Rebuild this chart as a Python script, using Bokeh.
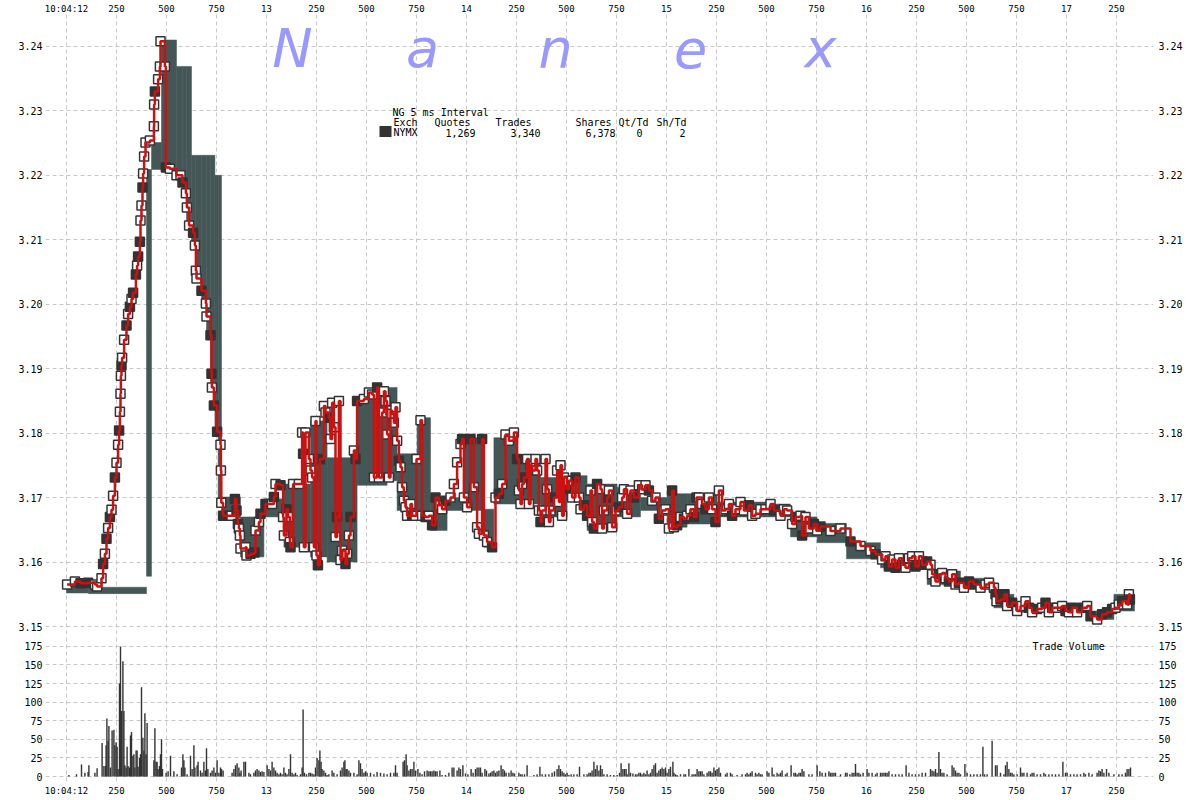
from bokeh.plotting import figure
from bokeh.models import Range1d, LinearAxis, FixedTicker, PrintfTickFormatter, Label, ColumnDataSource
from bokeh.layouts import column
from bokeh.transform import factor_cmap
from bokeh.embed import file_html
from bokeh.resources import INLINE

MONO = "DejaVu Sans Mono"

# ---------------- tick labels ----------------
x_ticks = list(range(0, 5251, 250))          # ms after 10:04:12.000
x_tick_text = ["10:04:12", "250", "500", "750",
               "13", "250", "500", "750",
               "14", "250", "500", "750",
               "15", "250", "500", "750",
               "16", "250", "500", "750",
               "17", "250"]
price_ticks = [3.15, 3.16, 3.17, 3.18, 3.19, 3.20, 3.21, 3.22, 3.23, 3.24]
vol_ticks = [0, 25, 50, 75, 100, 125, 150, 175]

# ---------------- NYMX quotes (bid / ask steps) ----------------
q_ms = [0, 110, 400, 425, 475, 550, 580, 600, 625, 645, 675, 700, 720, 742, 758,
        775, 870, 987, 1087, 1220, 1303, 1453, 1603, 1653, 1753, 1820, 1903, 1987,
        2087, 2137, 2253, 2370, 2503, 2603, 2753, 2870, 3003, 3103, 3253, 3503,
        3620, 3753, 3900, 4070, 4303, 4470, 4637, 4737, 5120, 5237]
q_end = 5340
q_bid = [3.1552, 3.1551, 3.1578, 3.2209, 3.2212, 3.2200, 3.2172, 3.2122, 3.2091, 3.2040,
         3.2001, 3.1952, 3.1871, 3.1802, 3.1692, 3.1668, 3.1608, 3.1670, 3.1623, 3.1608,
         3.1600, 3.1719, 3.1726, 3.1680, 3.1675, 3.1649, 3.1680, 3.1680, 3.1623, 3.1690,
         3.1690, 3.1670, 3.1695, 3.1649, 3.1670, 3.1680, 3.1654, 3.1659, 3.1670, 3.1670,
         3.1639, 3.1630, 3.1605, 3.1591, 3.1565, 3.1560, 3.1529, 3.1522, 3.1511, 3.1524]
q_ask = [3.1568, 3.1561, 3.2209, 3.2251, 3.2410, 3.2369, 3.2369, 3.2369, 3.2231, 3.2231,
         3.2231, 3.2231, 3.2231, 3.2200, 3.2200, 3.1701, 3.1670, 3.1698, 3.1721, 3.1819,
         3.1762, 3.1855, 3.1871, 3.1768, 3.1824, 3.1700, 3.1700, 3.1793, 3.1682, 3.1793,
         3.1762, 3.1731, 3.1734, 3.1721, 3.1716, 3.1700, 3.1706, 3.1706, 3.1693, 3.1690,
         3.1670, 3.1660, 3.1630, 3.1609, 3.1586, 3.1575, 3.1550, 3.1534, 3.1524, 3.1550]

# ---------------- trades ----------------
tr_ms = [3, 42, 70, 108, 142, 153, 175, 183, 192, 200,
         208, 217, 225, 233, 242, 250, 258, 263, 267, 270,
         272, 275, 278, 288, 300, 308, 317, 325, 333, 347,
         353, 358, 367, 370, 375, 380, 383, 388, 395, 417,
         437, 438, 442, 458, 467, 470, 492, 497, 517, 550,
         570, 580, 597, 602, 613, 633, 642, 647, 650, 675,
         697, 700, 720, 725, 727, 737, 753, 770, 772, 774,
         783, 825, 842, 850, 857, 862, 867, 870, 895, 900,
         920, 940, 945, 962, 970, 995, 1028, 1037, 1045, 1070,
         1083, 1087, 1100, 1107, 1117, 1120, 1133, 1162, 1178, 1183,
         1187, 1195, 1212, 1220, 1228, 1237, 1245, 1250, 1257, 1267,
         1287, 1295, 1312, 1320, 1328, 1337, 1345, 1353, 1362, 1370,
         1378, 1395, 1403, 1412, 1420, 1437, 1445, 1453, 1487, 1512,
         1528, 1537, 1553, 1562, 1578, 1587, 1595, 1603, 1612, 1620,
         1628, 1637, 1645, 1653, 1662, 1670, 1678, 1687, 1695, 1703,
         1720, 1728, 1745, 1750, 1770, 1778, 1795, 1812, 1828, 1845,
         1862, 1878, 1895, 1920, 1937, 1953, 1970, 1978, 1987, 2003,
         2020, 2037, 2053, 2062, 2078, 2087, 2103, 2128, 2145, 2162,
         2178, 2195, 2212, 2237, 2253, 2262, 2270, 2278, 2287, 2303,
         2312, 2320, 2328, 2345, 2353, 2362, 2370, 2378, 2395, 2403,
         2412, 2420, 2437, 2453, 2462, 2470, 2478, 2487, 2503, 2512,
         2528, 2545, 2562, 2570, 2587, 2603, 2620, 2628, 2637, 2653,
         2670, 2678, 2687, 2703, 2712, 2728, 2745, 2762, 2778, 2787,
         2803, 2820, 2837, 2862, 2878, 2895, 2912, 2928, 2945, 2962,
         2978, 2995, 3012, 3028, 3037, 3053, 3070, 3087, 3103, 3120,
         3137, 3150, 3162, 3178, 3195, 3212, 3228, 3245, 3262, 3278,
         3295, 3312, 3328, 3345, 3370, 3387, 3412, 3428, 3445, 3470,
         3495, 3520, 3537, 3570, 3587, 3603, 3628, 3645, 3670, 3678,
         3695, 3712, 3737, 3753, 3770, 3820, 3870, 3920, 3970, 4020,
         4045, 4078, 4095, 4112, 4128, 4145, 4162, 4178, 4195, 4212,
         4228, 4245, 4262, 4278, 4303, 4320, 4328, 4345, 4362, 4378,
         4395, 4412, 4428, 4445, 4462, 4487, 4512, 4537, 4570, 4595,
         4612, 4637, 4645, 4650, 4670, 4690, 4703, 4728, 4753, 4770,
         4795, 4812, 4828, 4853, 4878, 4895, 4912, 4928, 4953, 4978,
         4995, 5012, 5028, 5053, 5078, 5103, 5120, 5153, 5178, 5203,
         5228, 5245, 5262, 5278, 5303, 5312, 5317]
tr_px = [3.1565, 3.1570, 3.1567, 3.1568, 3.1565, 3.1562, 3.1575, 3.1597, 3.1613, 3.1636,
         3.1653, 3.1670, 3.1681, 3.1703, 3.1731, 3.1754, 3.1782, 3.1804, 3.1833, 3.1861,
         3.1889, 3.1905, 3.1917, 3.1945, 3.1967, 3.1985, 3.1996, 3.2008, 3.2018, 3.2046,
         3.2060, 3.2074, 3.2097, 3.2130, 3.2153, 3.2181, 3.2203, 3.2229, 3.2251, 3.2254,
         3.2276, 3.2310, 3.2330, 3.2349, 3.2369, 3.2408, 3.2369, 3.2212, 3.2210, 3.2200,
         3.2200, 3.2189, 3.2172, 3.2150, 3.2122, 3.2111, 3.2091, 3.2052, 3.2040, 3.2021,
         3.2001, 3.1981, 3.1952, 3.1892, 3.1871, 3.1843, 3.1802, 3.1782, 3.1742, 3.1692,
         3.1672, 3.1672, 3.1698, 3.1680, 3.1659, 3.1652, 3.1641, 3.1621, 3.1623, 3.1610,
         3.1613, 3.1615, 3.1649, 3.1662, 3.1675, 3.1690, 3.1690, 3.1701, 3.1721, 3.1719,
         3.1670, 3.1641, 3.1682, 3.1670, 3.1631, 3.1623, 3.1721, 3.1721, 3.1801, 3.1768,
         3.1623, 3.1801, 3.1760, 3.1742, 3.1731, 3.1623, 3.1819, 3.1610, 3.1595, 3.1760,
         3.1842, 3.1832, 3.1824, 3.1791, 3.1847, 3.1809, 3.1639, 3.1670, 3.1850, 3.1603,
         3.1618, 3.1597, 3.1613, 3.1641, 3.1670, 3.1773, 3.1760, 3.1850, 3.1853, 3.1863,
         3.1860, 3.1731, 3.1871, 3.1731, 3.1832, 3.1865, 3.1850, 3.1798, 3.1731, 3.1835,
         3.1830, 3.1816, 3.1840, 3.1788, 3.1757, 3.1747, 3.1716, 3.1695, 3.1685, 3.1672,
         3.1690, 3.1672, 3.1672, 3.1760, 3.1820, 3.1672, 3.1670, 3.1672, 3.1657, 3.1700,
         3.1688, 3.1682, 3.1695, 3.1700, 3.1721, 3.1755, 3.1783, 3.1791, 3.1700, 3.1685,
         3.1791, 3.1716, 3.1654, 3.1644, 3.1791, 3.1641, 3.1631, 3.1623, 3.1700, 3.1706,
         3.1721, 3.1798, 3.1788, 3.1801, 3.1760, 3.1711, 3.1690, 3.1721, 3.1731, 3.1760,
         3.1690, 3.1750, 3.1742, 3.1760, 3.1742, 3.1680, 3.1662, 3.1680, 3.1760, 3.1713,
         3.1662, 3.1680, 3.1700, 3.1742, 3.1693, 3.1750, 3.1672, 3.1731, 3.1713, 3.1726,
         3.1700, 3.1731, 3.1700, 3.1682, 3.1688, 3.1672, 3.1711, 3.1662, 3.1652, 3.1721,
         3.1713, 3.1652, 3.1680, 3.1700, 3.1711, 3.1654, 3.1680, 3.1685, 3.1700, 3.1713,
         3.1675, 3.1711, 3.1700, 3.1719, 3.1713, 3.1719, 3.1711, 3.1695, 3.1700, 3.1667,
         3.1680, 3.1682, 3.1652, 3.1711, 3.1654, 3.1657, 3.1670, 3.1667, 3.1672, 3.1682,
         3.1670, 3.1700, 3.1700, 3.1690, 3.1682, 3.1700, 3.1682, 3.1662, 3.1711, 3.1680,
         3.1682, 3.1690, 3.1672, 3.1682, 3.1693, 3.1680, 3.1688, 3.1672, 3.1675, 3.1682,
         3.1682, 3.1690, 3.1680, 3.1672, 3.1682, 3.1680, 3.1659, 3.1670, 3.1672, 3.1641,
         3.1670, 3.1652, 3.1659, 3.1649, 3.1655, 3.1648, 3.1652, 3.1632, 3.1625, 3.1617,
         3.1612, 3.1604, 3.1609, 3.1593, 3.1604, 3.1591, 3.1606, 3.1596, 3.1591, 3.1606,
         3.1609, 3.1593, 3.1609, 3.1596, 3.1601, 3.1596, 3.1581, 3.1570, 3.1581, 3.1583,
         3.1575, 3.1570, 3.1581, 3.1565, 3.1568, 3.1560, 3.1570, 3.1565, 3.1560, 3.1565,
         3.1568, 3.1560, 3.1550, 3.1539, 3.1542, 3.1550, 3.1532, 3.1537, 3.1524, 3.1532,
         3.1539, 3.1529, 3.1522, 3.1527, 3.1529, 3.1537, 3.1522, 3.1529, 3.1529, 3.1532,
         3.1524, 3.1522, 3.1529, 3.1522, 3.1529, 3.1532, 3.1516, 3.1511, 3.1519, 3.1522,
         3.1527, 3.1529, 3.1534, 3.1539, 3.1534, 3.1550, 3.1542]
# W = hollow marker, D = filled marker
tr_side = list("WWDDWWWDWD" "WDWWDWWDWW" "WDWWDWDWDD" "WDDWWDWWWW" "WWDWWWWDWW"
               "WDWWWDWWWD" "WWDDWDDWWW" "DWDDDWWWWW" "DDWWDDWDWD" "WWDWWDWWWD"
               "WWWWWWWWDD" "WWDWWWWDWW" "WDWWDWDDWW" "WWDWWWWWWW" "WWWWDWWWWW"
               "WDWWWWDWDD" "WWDWWWWDWW" "DWWWDWWDWD" "WWWWDWWWDW" "WWDWWWDWWW"
               "WWDWWWWWDW" "WDWWDDWWDD" "WWWDWWWDWW" "WWDWWWDWWD" "WWWDWDWDWW"
               "DDWWDWWDWW" "WWDWWWDWWW" "WWDWWWWDWD" "WWDWDWWDWW" "DWWDWDWDWW"
               "WDWDDWWWDW" "WDWWDWDDWW" "WWDWDDWDWW" "WDWDWDWDWW" "DWDWDWDWDD"
               "DWWDWWD")

# ---------------- trade volume (5 ms buckets) ----------------
vol_ms = [12, 50, 75, 92, 108, 112, 142, 153, 178, 187,
          195, 198, 202, 208, 212, 220, 228, 237, 242, 248,
          253, 258, 265, 270, 275, 282, 287, 292, 298, 303,
          308, 315, 320, 325, 332, 337, 342, 348, 353, 358,
          365, 370, 375, 382, 387, 392, 398, 403, 437, 442,
          448, 453, 458, 465, 470, 475, 480, 498, 508, 520,
          537, 553, 575, 582, 587, 592, 603, 620, 628, 637,
          642, 653, 658, 670, 678, 687, 695, 700, 707, 720,
          728, 737, 745, 753, 762, 770, 775, 783, 828, 837,
          845, 853, 862, 867, 873, 887, 895, 912, 920, 937,
          945, 953, 962, 970, 978, 987, 1003, 1012, 1020, 1028,
          1037, 1045, 1053, 1062, 1070, 1078, 1087, 1095, 1103, 1112,
          1120, 1128, 1137, 1145, 1153, 1170, 1178, 1183, 1190, 1200,
          1212, 1220, 1228, 1237, 1245, 1253, 1262, 1267, 1273, 1278,
          1287, 1295, 1303, 1312, 1328, 1337, 1353, 1370, 1378, 1387,
          1392, 1398, 1403, 1412, 1420, 1437, 1453, 1462, 1470, 1478,
          1487, 1495, 1503, 1520, 1537, 1553, 1570, 1587, 1603, 1620,
          1637, 1645, 1653,
          1683, 1690, 1698, 1703, 1712, 1720, 1728, 1737, 1745, 1757,
          1767, 1778, 1790, 1803, 1812, 1820, 1828, 1837, 1845, 1853,
          1867, 1878, 1895, 1912, 1928, 1937, 1953, 1962, 1970, 1982,
          1995, 2007, 2023, 2033, 2045, 2053, 2062, 2070, 2078, 2092,
          2100, 2112, 2120, 2128, 2137, 2145, 2153, 2162, 2173, 2182,
          2190, 2198, 2212, 2223, 2232, 2240, 2262, 2270, 2278, 2290,
          2303, 2337, 2353, 2367, 2378, 2395, 2412, 2428, 2440, 2453,
          2462, 2470, 2478, 2487, 2495, 2503, 2512, 2523, 2537, 2553,
          2565, 2587, 2603, 2612, 2620, 2628, 2637, 2645, 2653, 2662,
          2670, 2678, 2687, 2703, 2720, 2737, 2753, 2765, 2773, 2782,
          2790, 2798, 2803, 2812, 2820, 2832, 2845, 2853, 2862, 2870,
          2878, 2887, 2895, 2903, 2912, 2920, 2928, 2937, 2945, 2953,
          2962, 2970, 2978, 2987, 2995, 3003, 3012, 3020, 3032, 3037,
          3045, 3053, 3070, 3087, 3095, 3112, 3128, 3137, 3145, 3153,
          3162, 3170, 3178, 3187, 3203, 3212, 3220, 3228, 3237, 3245,
          3253, 3262, 3270, 3295, 3303, 3320, 3328, 3353, 3378, 3395,
          3403, 3412, 3420, 3428, 3445, 3453, 3462, 3470, 3478, 3503,
          3512, 3528, 3537, 3553, 3562, 3570, 3578, 3595, 3603, 3623,
          3637, 3645, 3653, 3662, 3670, 3678, 3687, 3712, 3728, 3753,
          3767, 3778, 3795, 3812, 3820, 3828, 3837, 3845, 3870, 3895,
          3903, 3917, 3928, 3937, 3945, 3953, 3962, 3970, 3983, 4003,
          4012, 4028, 4045, 4053, 4070, 4078, 4087, 4095, 4103, 4112,
          4128, 4145, 4162,
          4178, 4198, 4212, 4228, 4245, 4262, 4278, 4295, 4320, 4328,
          4337, 4345, 4353, 4362, 4370, 4378, 4387, 4403, 4428, 4437,
          4445, 4453, 4462, 4470, 4492, 4503, 4520, 4537, 4553, 4570,
          4582, 4590, 4603, 4628, 4645, 4653, 4670, 4687, 4695, 4703,
          4712, 4720, 4728, 4737, 4753, 4770, 4778, 4787, 4803, 4820,
          4828, 4837, 4853, 4870, 4887, 4895, 4912, 4928, 4945, 4962,
          4982, 4995, 5003, 5020, 5037, 5053, 5070, 5087, 5095, 5112,
          5128, 5153, 5162, 5170, 5178, 5187, 5200, 5212, 5237, 5262,
          5278, 5295, 5303, 5312, 5320]
vol = [2, 3, 16, 5, 6, 15, 5, 11, 45, 14,
       14, 42, 78, 48, 68, 12, 62, 63, 42, 46,
       40, 10, 125, 175, 88, 155, 88, 15, 12, 40,
       14, 12, 55, 60, 28, 30, 12, 35, 35, 13,
       25, 30, 120, 52, 35, 85, 30, 72, 22, 65,
       20, 20, 10, 14, 30, 50, 10, 5, 7, 28,
       7, 3, 12, 30, 22, 12, 3, 28, 10, 42,
       12, 15, 20, 8, 5, 20, 8, 38, 10, 5,
       8, 12, 5, 22, 5, 12, 10, 8, 5, 10,
       15, 18, 12, 5, 8, 20, 20, 5, 3, 5,
       8, 10, 8, 6, 7, 6, 15, 10, 8, 20,
       12, 8, 5, 3, 5, 3, 12, 5, 3, 10,
       30, 5, 3, 5, 2, 3, 12, 90, 5, 3,
       5, 5, 4, 3, 12, 25, 22, 35, 20, 10,
       8, 5, 2, 3, 8, 5, 3, 8, 12, 20,
       22, 10, 10, 8, 5, 5, 3, 22, 18, 10,
       5, 7, 5, 5, 3, 6, 5, 4, 3, 5,
       5, 15, 5,
       20, 22, 30, 15, 8, 10, 10, 20, 8, 10,
       5, 3, 7, 8, 7, 7, 7, 8, 7, 7,
       8, 2, 2, 5, 12, 12, 8, 12, 10, 15,
       4, 3, 10, 5, 10, 12, 12, 12, 5, 10,
       8, 4, 5, 7, 8, 5, 7, 8, 15, 10,
       8, 5, 5, 8, 5, 4, 5, 3, 3, 3,
       15, 2, 3, 13, 3, 3, 3, 5, 7, 10,
       15, 10, 7, 5, 3, 5, 2, 3, 3, 3,
       13, 3, 3, 5, 5, 8, 20, 10, 15, 8,
       15, 10, 3, 3, 2, 2, 2, 5, 18, 10,
       10, 10, 3, 18, 5, 4, 3, 3, 5, 5,
       3, 5, 3, 8, 3, 5, 10, 15, 18, 5,
       8, 10, 12, 10, 12, 5, 10, 13, 20, 5,
       3, 2, 3, 3, 3, 10, 3, 3, 3, 10,
       7, 7, 7, 3, 5, 7, 7, 5, 12, 8,
       10, 12, 5, 3, 5, 5, 3, 2, 3, 3,
       5, 3, 5, 7, 5, 3, 5, 3, 3, 7,
       5, 12, 3, 5, 3, 5, 8, 3, 5, 15,
       5, 5, 3, 5, 5, 10, 7, 3, 3, 15,
       7, 5, 5, 7, 5, 5, 5, 5, 3, 5,
       5, 3, 5, 5, 17, 5, 5, 3, 5, 10,
       5, 5, 3, 5, 5, 5, 5, 5, 5, 7,
       3, 3, 3,
       3, 15, 5, 3, 3, 3, 5, 5, 10, 8,
       7, 10, 5, 33, 10, 5, 5, 3, 15, 12,
       8, 5, 5, 3, 17, 5, 3, 3, 3, 3,
       40, 3, 3, 48, 15, 15, 5, 3, 15, 20,
       10, 5, 5, 3, 3, 12, 5, 5, 5, 3,
       5, 5, 3, 3, 5, 3, 3, 3, 3, 3,
       20, 5, 5, 3, 3, 3, 3, 5, 3, 5,
       3, 5, 8, 7, 10, 5, 10, 5, 3, 3,
       3, 5, 10, 10, 12]

# ---------------- summary legend ----------------
legend_title = "NG 5 ms Interval"
legend_headers = ["Exch", "Quotes", "Trades", "Shares", "Qt/Td", "Sh/Td"]
legend_values = ["NYMX", "1,269", "3,340", "6,378", "0", "2"]
watermark = ["N", "a", "n", "e", "x"]

# ---------------- styling ----------------
GRID = "#c8c8c8"
BAND = "#455656"
DARK = "#333333"
RED = "#cc1111"

W = 1192
LEFT, RIGHT = 45, 39
TOP1, FRAME_H1 = 12, 622
FRAME_H2, BOTTOM2 = 148, 16
x_range = Range1d(-105, 5435)


def style_axis(ax, size="10px", standoff=3):
    ax.axis_line_color = None
    ax.major_tick_line_color = None
    ax.minor_tick_line_color = None
    ax.major_tick_out = 0
    ax.major_tick_in = 0
    ax.major_label_text_font = MONO
    ax.major_label_text_font_size = size
    ax.major_label_text_color = "#000000"
    ax.major_label_standoff = standoff


def style_grid(fig, yticks):
    fig.xgrid.ticker = FixedTicker(ticks=x_ticks)
    fig.ygrid.ticker = FixedTicker(ticks=yticks)
    for g in (fig.xgrid, fig.ygrid):
        g.grid_line_color = GRID
        g.grid_line_dash = "4 3"
        g.grid_line_width = 1
    fig.outline_line_color = None
    fig.background_fill_color = "white"
    fig.border_fill_color = "white"


overrides = {t: s for t, s in zip(x_ticks, x_tick_text)}

# ---------- price panel ----------
p = figure(width=W, height=TOP1 + FRAME_H1, x_range=x_range, y_range=Range1d(3.14876, 3.24495),
           x_axis_location="above", toolbar_location=None, output_backend="svg",
           min_border_left=LEFT, min_border_right=RIGHT, min_border_top=TOP1, min_border_bottom=0)
style_grid(p, price_ticks)
xa = p.xaxis[0]
xa.ticker = FixedTicker(ticks=x_ticks)
xa.major_label_overrides = overrides
style_axis(xa, size="9px", standoff=1)
ya = p.yaxis[0]
ya.ticker = FixedTicker(ticks=price_ticks)
ya.formatter = PrintfTickFormatter(format="%.2f")
style_axis(ya)
ra = LinearAxis(ticker=FixedTicker(ticks=price_ticks), formatter=PrintfTickFormatter(format="%.2f"))
style_axis(ra, standoff=5)
p.add_layout(ra, "right")

# quotes band
q_right = q_ms[1:] + [q_end]
p.quad(left=q_ms, right=q_right, bottom=q_bid, top=q_ask, fill_color=BAND, line_color=BAND, line_width=0.5)

n = min(len(tr_ms), len(tr_px), len(tr_side))
src = ColumnDataSource(dict(t=tr_ms[:n], px=tr_px[:n], side=tr_side[:n]))
p.scatter("t", "px", source=src, marker="square", size=9, line_color=DARK, line_width=1.5,
          fill_color=factor_cmap("side", palette=["#ffffff", DARK], factors=["W", "D"]))
p.step("t", "px", source=src, mode="after", line_color=RED, line_width=2.5)

FB = FRAME_H1 + TOP1  # page y of price-frame bottom

# watermark
for ch, cx in zip(watermark, [292, 422, 555, 690, 820]):
    p.add_layout(Label(x=cx - LEFT, y=FB - 48, x_units="screen", y_units="screen", text=ch,
                       text_font="DejaVu Sans", text_font_style="italic", text_font_size="54px",
                       text_color="#9999ff", text_align="center", text_baseline="middle"))


def lab(fig, x, y, text, align="left", **kw):
    fig.add_layout(Label(x=x, y=y, x_units="screen", y_units="screen", text=text,
                         text_font=MONO, text_font_size="10px", text_color="#000000",
                         text_align=align, text_baseline="middle", **kw))


# summary box (page coordinates converted to frame coordinates)
lab(p, 392 - LEFT, FB - 112, legend_title)
for h, x, al in zip(legend_headers, [393, 470, 531, 611, 648, 686],
                    ["left", "right", "right", "right", "right", "right"]):
    lab(p, x - LEFT, FB - 122, h, align=al)
lab(p, 393 - LEFT, FB - 132, legend_values[0])
for v, x in zip(legend_values[1:], [475, 540, 615, 642, 685]):
    lab(p, x - LEFT, FB - 132, v, align="right")
lab(p, 385 - LEFT, FB - 131, "  ", align="center", background_fill_color=DARK)

# ---------- volume panel ----------
p2 = figure(width=W, height=FRAME_H2 + BOTTOM2, x_range=x_range, y_range=Range1d(-6.7, 191),
            toolbar_location=None, output_backend="svg",
            min_border_left=LEFT, min_border_right=RIGHT, min_border_top=0, min_border_bottom=BOTTOM2)
style_grid(p2, vol_ticks)
bx = p2.xaxis[0]
bx.ticker = FixedTicker(ticks=x_ticks)
bx.major_label_overrides = overrides
style_axis(bx, size="9px", standoff=4)
vy = p2.yaxis[0]
vy.ticker = FixedTicker(ticks=vol_ticks)
style_axis(vy)
vr = LinearAxis(ticker=FixedTicker(ticks=vol_ticks))
style_axis(vr, standoff=5)
p2.add_layout(vr, "right")

m = min(len(vol_ms), len(vol))
p2.vbar(x=vol_ms[:m], top=vol[:m], bottom=0, width=7, fill_color=DARK, line_color=None)

# "Trade Volume" at page (1032, 647); volume frame spans page y 634..782
lab(p2, 1032 - LEFT, (FB + FRAME_H2) - 647, "Trade Volume")

layout = column(p, p2, spacing=0)
open("out.html", "w").write(file_html(layout, INLINE))
